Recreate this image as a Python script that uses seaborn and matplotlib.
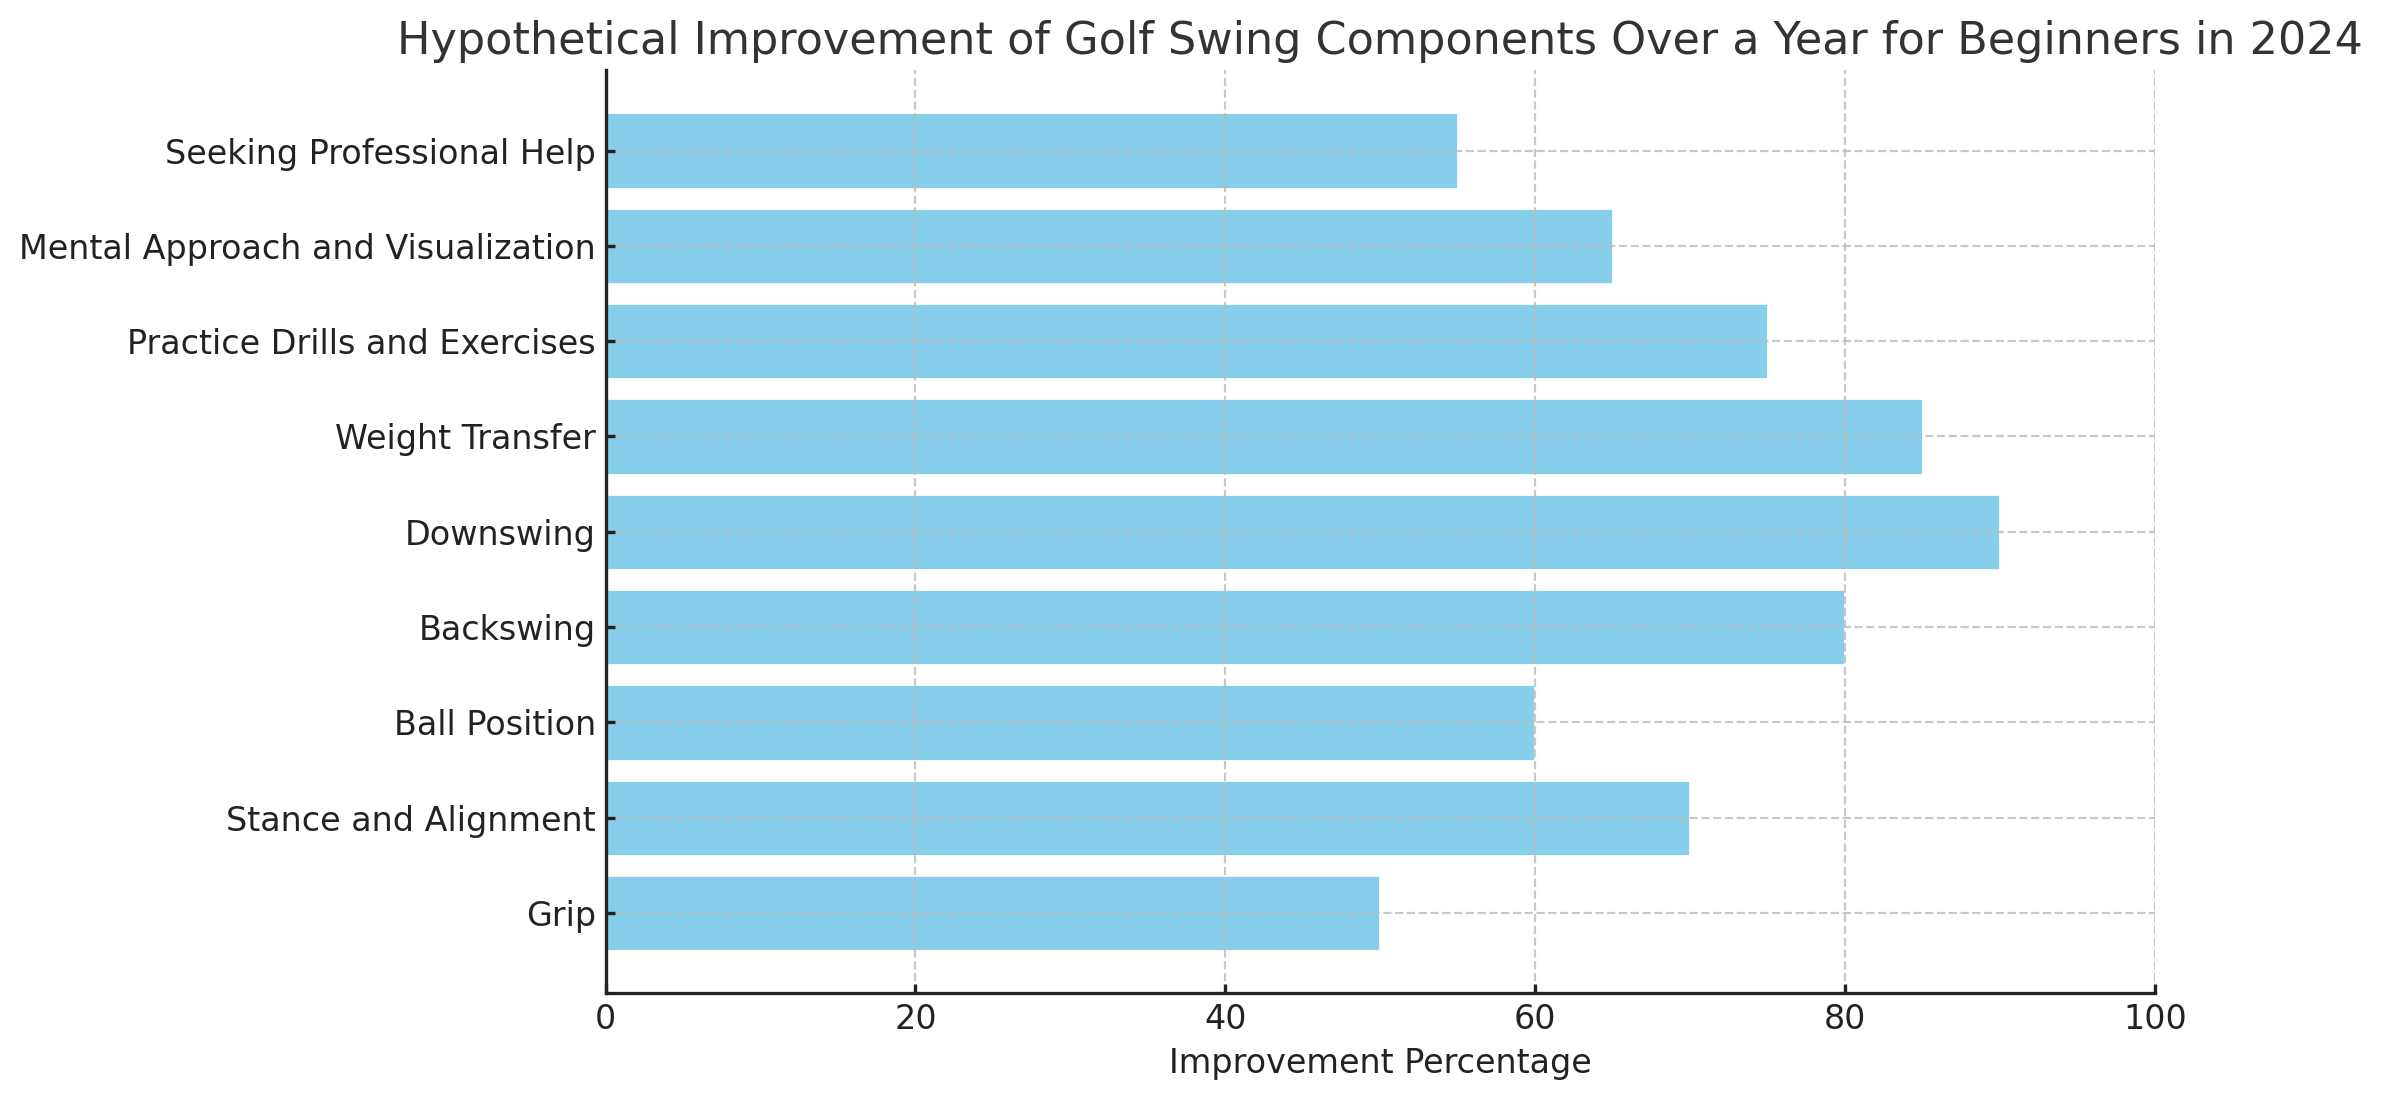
import matplotlib
matplotlib.use("Agg")
import matplotlib.pyplot as plt
import seaborn as sns
import pandas as pd

# data
components = ["Grip", "Stance and Alignment", "Ball Position", "Backswing",
              "Downswing", "Weight Transfer", "Practice Drills and Exercises",
              "Mental Approach and Visualization", "Seeking Professional Help"]
improvement = [50, 70, 60, 80, 90, 85, 75, 65, 55]

df = pd.DataFrame({"Component": components, "Improvement": improvement})

sns.set_style("ticks")
plt.rcParams['font.family'] = ['DejaVu Sans']

fig, ax = plt.subplots(figsize=(11.92, 5.505), dpi=200)
fig.subplots_adjust(left=0.254, right=0.904, top=0.936, bottom=0.098)

# top of chart is the last category
order = components[::-1]
sns.barplot(data=df, x="Improvement", y="Component", order=order,
            color="skyblue", saturation=1, width=0.8, orient="h", ax=ax)

ax.set_xlim(0, 100)
ax.set_ylim(len(order) - 1 + 0.84, -0.84)
ax.set_title("Hypothetical Improvement of Golf Swing Components Over a Year for Beginners in 2024",
             fontsize=16, color="#333333")
ax.set_xlabel("Improvement Percentage", fontsize=12, color="#222222")
ax.set_ylabel("")
ax.tick_params(axis="both", labelsize=12, colors="#222222", length=3.2,
               width=1.2, direction="in")

ax.set_axisbelow(False)
ax.grid(True, linestyle="--", color="#bbbbbb", linewidth=0.8, alpha=0.8)

sns.despine(ax=ax)
for s in ["left", "bottom"]:
    ax.spines[s].set_color("#222222")
    ax.spines[s].set_linewidth(1.2)
    ax.spines[s].set_zorder(5)

fig.savefig("out.png", dpi=200)
